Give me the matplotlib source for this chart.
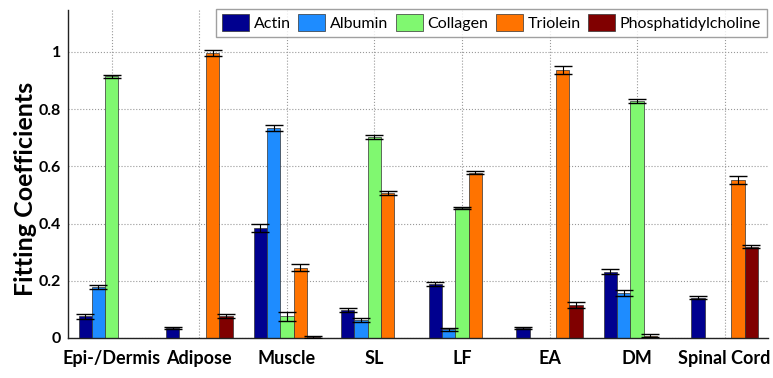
import numpy as np
import matplotlib
matplotlib.use("Agg")
import matplotlib.pyplot as plt
from matplotlib.patches import Patch

plt.rcParams['font.family'] = ['Lato', 'DejaVu Sans']

tissues = ["Epi-/Dermis", "Adipose", "Muscle", "SL", "LF", "EA", "DM", "Spinal Cord"]
components = ["Actin", "Albumin", "Collagen", "Triolein", "Phosphatidylcholine"]

actin = [0.075, 0.034, 0.384, 0.098, 0.189, 0.034, 0.232, 0.141]
albumin = [0.177, 0.0, 0.733, 0.063, 0.030, 0.0, 0.156, 0.0]
collagen = [0.914, 0.0, 0.075, 0.704, 0.453, 0.0, 0.829, 0.0]
triolein = [0.0, 0.995, 0.246, 0.508, 0.578, 0.937, 0.008, 0.552]
phosphatidylcholine = [0.0, 0.075, 0.003, 0.0, 0.0, 0.115, 0.0, 0.319]

actin_err = [0.010, 0.003, 0.013, 0.006, 0.007, 0.003, 0.008, 0.006]
albumin_err = [0.007, 0.0, 0.010, 0.007, 0.006, 0.0, 0.010, 0.0]
collagen_err = [0.004, 0.0, 0.015, 0.007, 0.003, 0.0, 0.007, 0.0]
triolein_err = [0.0, 0.010, 0.012, 0.007, 0.005, 0.015, 0.005, 0.015]
phosphatidylcholine_err = [0.0, 0.007, 0.003, 0.0, 0.0, 0.010, 0.0, 0.005]

colors = ["#00008F", "#1E8CFF", "#80F870", "#FF7300", "#800000"]

series = [actin, albumin, collagen, triolein, phosphatidylcholine]
errors = [actin_err, albumin_err, collagen_err, triolein_err, phosphatidylcholine_err]

fig = plt.figure(figsize=(7.73, 3.78), dpi=100)
ax = fig.add_axes([0.088, 0.106, 0.906, 0.868])

x = np.arange(1, len(tissues) + 1)
bw = 0.152
for i, (vals, errs, c) in enumerate(zip(series, errors, colors)):
    pos = x + (i - 2) * bw
    vals = np.array(vals)
    errs = np.array(errs)
    mask = vals > 0
    ax.bar(pos[mask], vals[mask], width=bw, color=c, edgecolor="#333333",
           linewidth=0.5, zorder=2)
    ax.errorbar(pos[mask], vals[mask], yerr=errs[mask], fmt="none",
                ecolor="black", elinewidth=0.8, capsize=6.5, capthick=1.0, zorder=3)

ax.set_xlim(0.5, 8.5)
ax.set_ylim(0, 1.147)
ax.set_xticks(x)
ax.set_xticklabels(tissues, fontsize=13, fontweight="bold")
ax.set_yticks([0, 0.2, 0.4, 0.6, 0.8, 1.0])
ax.set_yticklabels(["0", "0.2", "0.4", "0.6", "0.8", "1"], fontsize=11.5, fontweight="bold")
ax.tick_params(axis="x", length=0, pad=9)
ax.tick_params(axis="y", length=0, pad=5)
ax.set_ylabel("Fitting Coefficients", fontsize=18, fontweight="bold")
ax.yaxis.set_label_coords(-0.044, 0.455)

ax.grid(True, linestyle=":", color="#999999", linewidth=0.8, zorder=0)
ax.set_axisbelow(True)
for side in ["top", "right"]:
    ax.spines[side].set_visible(False)
for side in ["left", "bottom"]:
    ax.spines[side].set_color("#222222")
    ax.spines[side].set_linewidth(1.0)

handles = [Patch(facecolor=c, edgecolor="#333333", linewidth=0.5) for c in colors]
leg = ax.legend(handles, components, ncol=5, loc="upper right",
                bbox_to_anchor=(0.9975, 1.003), fontsize=11.5, frameon=True,
                fancybox=False, edgecolor="#888888", handlelength=1.7,
                handleheight=1.2, handletextpad=0.3, columnspacing=0.45,
                borderpad=0.35, borderaxespad=0.0)
leg.get_frame().set_linewidth(1.0)

fig.savefig("out.png", dpi=100)
